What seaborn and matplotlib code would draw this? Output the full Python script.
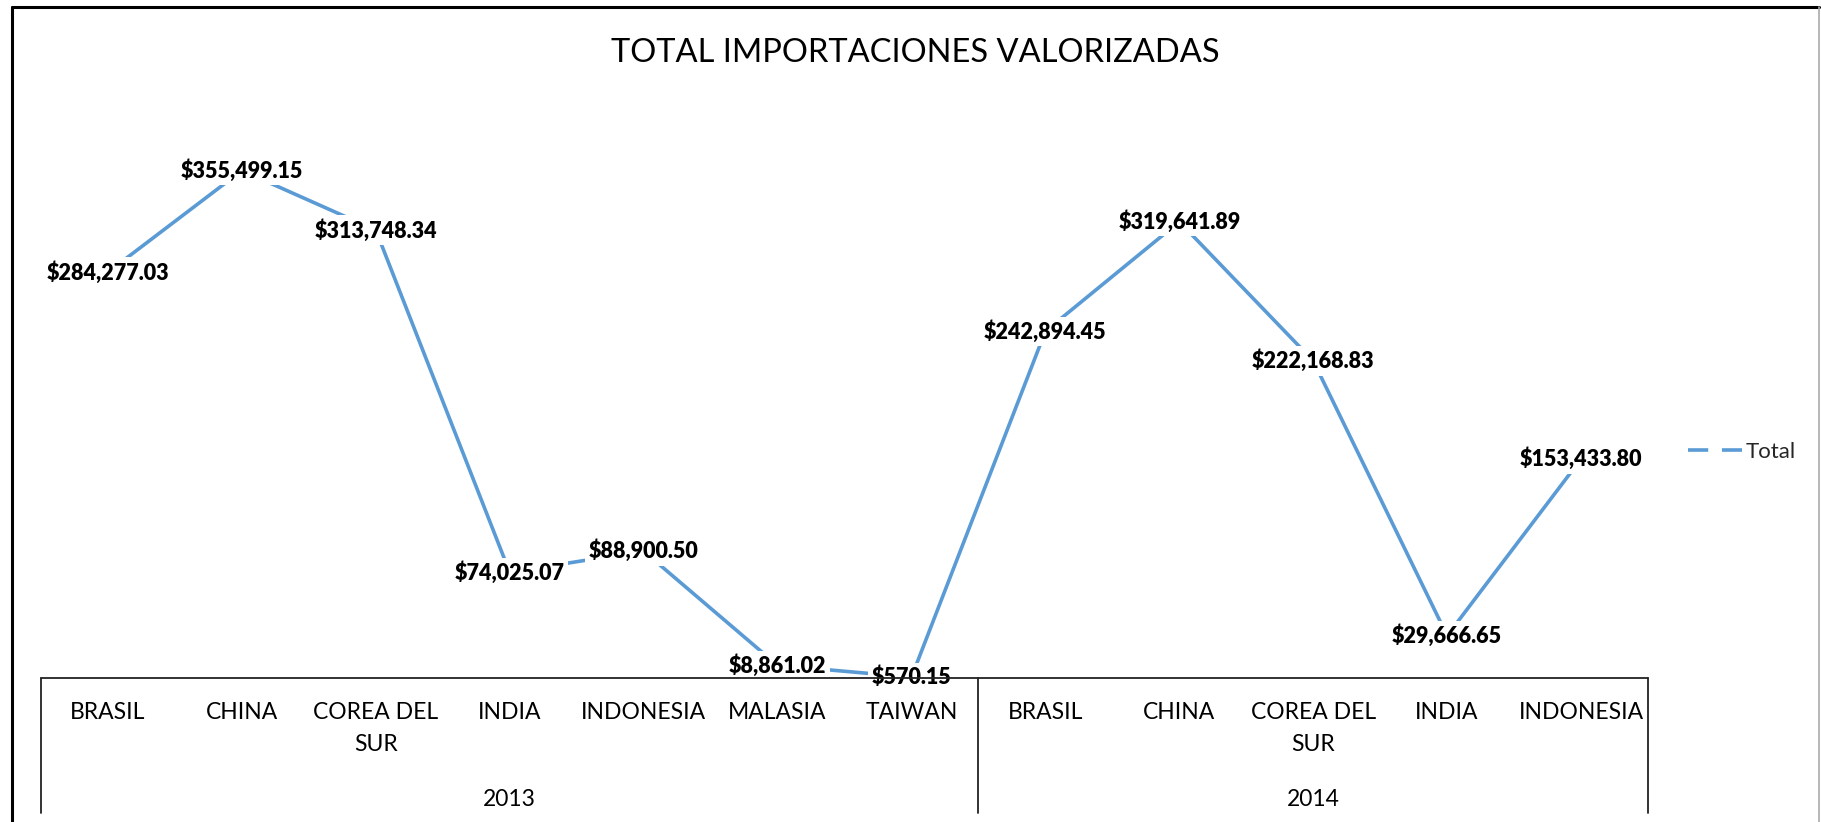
import numpy as np
import pandas as pd
import matplotlib
matplotlib.use("Agg")
import matplotlib.pyplot as plt
import matplotlib.transforms as mtransforms
from matplotlib.lines import Line2D
import seaborn as sns

# data
countries = ["BRASIL", "CHINA", "COREA DEL\nSUR", "INDIA", "INDONESIA", "MALASIA", "TAIWAN",
             "BRASIL", "CHINA", "COREA DEL\nSUR", "INDIA", "INDONESIA"]
years = ["2013"] * 7 + ["2014"] * 5
totals = [284277.03, 355499.15, 313748.34, 74025.07, 88900.50, 8861.02, 570.15,
          242894.45, 319641.89, 222168.83, 29666.65, 153433.80]
year_labels = ["2013", "2014"]

df = pd.DataFrame({"pais": countries, "anio": years, "total": totals})
df["pos"] = np.arange(len(df))

sns.set_theme(style="white")
plt.rcParams["font.family"] = ["Lato", "DejaVu Sans"]

line_color = "#5B9BD5"

fig = plt.figure(figsize=(18.21, 8.22), dpi=100)
ax = fig.add_axes([41 / 1821, 1 - 678 / 822, (1648 - 41) / 1821, (678 - 107) / 822])

sns.lineplot(data=df, x="pos", y="total", ax=ax, color=line_color, linewidth=2.6,
             legend=False, zorder=2)

ax.set_xlim(-0.5, len(df) - 0.5)
ax.set_ylim(0, 400000)
for s in ax.spines.values():
    s.set_visible(False)
ax.set_xticks([])
ax.set_yticks([])
ax.set_xlabel("")
ax.set_ylabel("")
ax.patch.set_alpha(0)

# data labels centred on the points
for _, r in df.iterrows():
    ax.text(r["pos"], r["total"], f"${r['total']:,.2f}", ha="center", va="center",
            fontsize=15.5, fontweight="heavy", color="black", zorder=3,
            bbox=dict(facecolor="white", edgecolor="none", pad=2.5))

# category table below the plot
trans = mtransforms.blended_transform_factory(ax.transData, ax.transAxes)
depth = -(813 - 678) / 571
ax.plot([-0.5, len(df) - 0.5], [0, 0], transform=trans, color="#222222", lw=1.3,
        clip_on=False, zorder=4)
bounds = [-0.5]
for i in range(1, len(df)):
    if years[i] != years[i - 1]:
        bounds.append(i - 0.5)
bounds.append(len(df) - 0.5)
for b in bounds:
    ax.plot([b, b], [0, depth], transform=trans, color="#222222", lw=1.3, clip_on=False)

for i, name in enumerate(countries):
    ax.text(i, -(702 - 678) / 571, name, transform=trans, ha="center", va="top",
            fontsize=16.5, linespacing=1.65, color="black")

for y in year_labels:
    idx = [i for i, v in enumerate(years) if v == y]
    ax.text(np.mean(idx), -(799 - 678) / 571, y, transform=trans, ha="center",
            va="center", fontsize=16.5, color="black")

# title
fig.text(915 / 1821, 1 - 53 / 822, "TOTAL IMPORTACIONES VALORIZADAS", ha="center",
         va="center", fontsize=23.5, color="black")

# legend
handle = Line2D([], [], color=line_color, lw=2.6, dashes=(5.6, 3.8))
fig.legend([handle], ["Total"], loc="center left", bbox_to_anchor=(1688 / 1821, 1 - 452 / 822),
           frameon=False, fontsize=16, handlelength=2.45, handletextpad=0.15,
           borderpad=0, borderaxespad=0)

# chart area border
fig.add_artist(Line2D([12 / 1821, 12 / 1821], [0, 1 - 7 / 822], color="black", lw=2.2,
                      transform=fig.transFigure))
fig.add_artist(Line2D([12 / 1821, 1819 / 1821], [1 - 7 / 822, 1 - 7 / 822], color="black",
                      lw=2.2, transform=fig.transFigure))
fig.add_artist(Line2D([1819 / 1821, 1819 / 1821], [0, 1 - 7 / 822], color="#AAAAAA", lw=1.2,
                      transform=fig.transFigure))

fig.savefig("out.png", dpi=100, facecolor="white")
